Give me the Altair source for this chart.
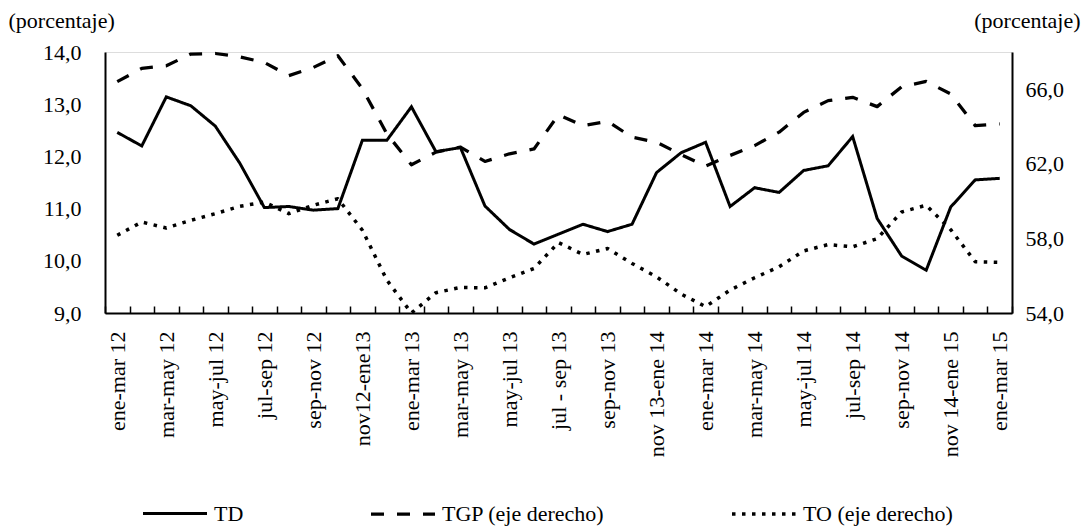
import json
import altair as alt
import pandas as pd

# ---------------- data ----------------
periodos = [
    "ene-mar 12", "feb-abr 12", "mar-may 12", "abr-jun 12", "may-jul 12", "jun-ago 12",
    "jul-sep 12", "ago-oct 12", "sep-nov 12", "oct-dic 12", "nov12-ene13", "dic12-feb13",
    "ene-mar 13", "feb-abr 13", "mar-may 13", "abr-jun 13", "may-jul 13", "jun-ago 13",
    "jul - sep 13", "ago-oct 13", "sep-nov 13", "oct-dic 13", "nov 13-ene 14", "dic 13-feb 14",
    "ene-mar 14", "feb-abr 14", "mar-may 14", "abr-jun 14", "may-jul 14", "jun-ago 14",
    "jul-sep 14", "ago-oct 14", "sep-nov 14", "oct-dic 14", "nov 14-ene 15", "dic 14-feb 15",
    "ene-mar 15",
]

etiquetas = [
    "ene-mar 12", "mar-may 12", "may-jul 12", "jul-sep 12", "sep-nov 12", "nov12-ene13",
    "ene-mar 13", "mar-may 13", "may-jul 13", "jul - sep 13", "sep-nov 13", "nov 13-ene 14",
    "ene-mar 14", "mar-may 14", "may-jul 14", "jul-sep 14", "sep-nov 14", "nov 14-ene 15",
    "ene-mar 15",
]

td = [12.46, 12.20, 13.14, 12.97, 12.58, 11.87, 11.02, 11.04, 10.97, 11.00,
      12.31, 12.31, 12.95, 12.09, 12.17, 11.05, 10.60, 10.32, 10.51, 10.70,
      10.56, 10.70, 11.69, 12.07, 12.27, 11.04, 11.40, 11.31, 11.73, 11.82,
      12.38, 10.81, 10.09, 9.82, 11.03, 11.55, 11.58]

tgp = [66.41, 67.12, 67.26, 67.89, 67.92, 67.74, 67.44, 66.73, 67.17, 67.80,
       66.03, 63.61, 61.95, 62.63, 62.90, 62.13, 62.54, 62.80, 64.63, 64.05,
       64.28, 63.43, 63.16, 62.50, 61.88, 62.45, 62.98, 63.70, 64.76, 65.39,
       65.57, 65.07, 66.14, 66.42, 65.75, 64.05, 64.14]

to = [58.17, 58.88, 58.56, 58.97, 59.33, 59.72, 59.95, 59.33, 59.78, 60.13,
      58.44, 55.76, 54.00, 55.09, 55.37, 55.35, 55.89, 56.39, 57.78, 57.14,
      57.46, 56.66, 55.94, 55.02, 54.34, 55.23, 55.89, 56.48, 57.33, 57.67,
      57.55, 57.99, 59.42, 59.78, 58.47, 56.75, 56.72]

series = ["TD", "TGP (eje derecho)", "TO (eje derecho)"]

rows = []
for i, p in enumerate(periodos):
    rows.append({"idx": i, "periodo": p, "serie": series[0], "valor": td[i]})
    rows.append({"idx": i, "periodo": p, "serie": series[1], "valor": tgp[i]})
    rows.append({"idx": i, "periodo": p, "serie": series[2], "valor": to[i]})
df = pd.DataFrame(rows)

# ---------------- layout ----------------
W, H = 907, 261
FONT = "Liberation Serif"
FS = 22

xscale = alt.Scale(domain=[-0.5, len(periodos) - 0.5], nice=False, zero=False)
comma_fmt = "replace(format(datum.value, '.1f'), '.', ',')"

dash_scale = alt.Scale(domain=series, range=[[1, 0], [13, 13], [3.5, 6.5]])
width_scale = alt.Scale(domain=series, range=[3, 3.5, 4])

legend = alt.Legend(
    title=None,
    orient="none",
    legendX=36,
    legendY=428,
    direction="horizontal",
    columns=3,
    gridAlign="none",
    columnPadding=120,
    padding=0,
    symbolType="stroke",
    symbolSize=4096,
    symbolStrokeWidth=3.5,
    symbolStrokeColor="black",
    labelFont=FONT,
    labelFontSize=FS,
    labelColor="black",
    labelOffset=5,
    labelLimit=400,
)

label_axis = alt.Axis(
    orient="bottom",
    values=list(range(0, len(periodos), 2)),
    labelExpr=json.dumps(etiquetas) + "[datum.value / 2]",
    labelAngle=-90,
    labelPadding=18,
    labelOverlap=False,
    labelFlush=False,
    labelFont=FONT,
    labelFontSize=FS,
    labelColor="black",
    ticks=False,
    tickSize=0,
    domain=False,
    grid=False,
    title=None,
)

tick_axis = alt.Axis(
    orient="top",
    offset=-H,
    values=[i - 0.5 for i in range(len(periodos) + 1)],
    labels=False,
    ticks=True,
    tickSize=7,
    tickWidth=1.5,
    tickColor="black",
    domain=True,
    domainWidth=2,
    domainColor="black",
    grid=False,
    title=None,
)

left_axis = alt.Axis(
    values=[9, 10, 11, 12, 13, 14],
    labelExpr=comma_fmt,
    labelFont=FONT,
    labelFontSize=FS,
    labelColor="black",
    labelPadding=24,
    ticks=False,
    domain=True,
    domainWidth=2,
    domainColor="black",
    grid=False,
    title="(porcentaje)",
    titleAngle=0,
    titleAlign="left",
    titleBaseline="alphabetic",
    titleX=-97,
    titleY=-25,
    titleFont=FONT,
    titleFontSize=FS,
    titleFontWeight="normal",
    titleColor="black",
)

right_axis = alt.Axis(
    orient="right",
    values=[54, 58, 62, 66],
    labelExpr=comma_fmt,
    labelFont=FONT,
    labelFontSize=FS,
    labelColor="black",
    labelPadding=13,
    ticks=False,
    domain=True,
    domainWidth=2,
    domainColor="black",
    grid=False,
    title="(porcentaje)",
    titleAngle=0,
    titleAlign="right",
    titleBaseline="alphabetic",
    titleX=68,
    titleY=-25,
    titleFont=FONT,
    titleFontSize=FS,
    titleFontWeight="normal",
    titleColor="black",
)

base = alt.Chart(df)

left = base.transform_filter(alt.datum.serie == series[0]).mark_line(
    color="black", strokeCap="butt", strokeJoin="miter"
).encode(
    x=alt.X("idx:Q", scale=xscale, axis=label_axis),
    y=alt.Y("valor:Q", scale=alt.Scale(domain=[9, 14], nice=False, zero=False), axis=left_axis),
    strokeDash=alt.StrokeDash("serie:N", scale=dash_scale, legend=legend),
    strokeWidth=alt.StrokeWidth("serie:N", scale=width_scale, legend=None),
    order="idx:Q",
)

right = base.transform_filter(alt.datum.serie != series[0]).mark_line(
    color="black", strokeCap="butt", strokeJoin="round"
).encode(
    x=alt.X("idx:Q", scale=xscale, axis=tick_axis),
    y=alt.Y("valor:Q", scale=alt.Scale(domain=[54, 68], nice=False, zero=False), axis=right_axis),
    strokeDash=alt.StrokeDash("serie:N", scale=dash_scale, legend=legend),
    strokeWidth=alt.StrokeWidth("serie:N", scale=width_scale, legend=None),
    order="idx:Q",
)

chart = (
    alt.layer(left, right)
    .resolve_scale(y="independent")
    .resolve_axis(x="independent", y="independent")
    .properties(
        width=W,
        height=H,
        autosize=alt.AutoSizeParams(type="none"),
        padding={"left": 97, "top": 44, "right": 70, "bottom": 213},
    )
    .configure_view(stroke=None)
    .configure(font=FONT, background="white")
)

chart.save("out.html", embed_options={"renderer": "svg", "actions": False})
